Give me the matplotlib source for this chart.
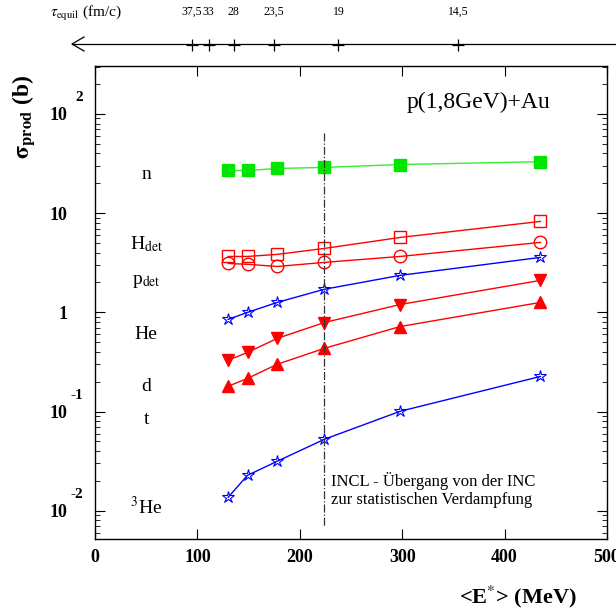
import matplotlib
matplotlib.use('Agg')
from matplotlib import pyplot as plt
from matplotlib.ticker import LogLocator, NullFormatter, FixedLocator, FixedFormatter

plt.rcParams['font.family'] = ['Liberation Serif', 'DejaVu Serif']
plt.rcParams['mathtext.fontset'] = 'stix'

# excitation energy <E*> (MeV)
energie = [130, 149, 178, 224, 298, 435]
tau = ['37,5', '33', '28', '23,5', '19', '14,5']

sigma_n = [26.9, 26.9, 28.2, 28.9, 30.9, 33.0]
sigma_H = [3.66, 3.66, 3.84, 4.41, 5.69, 8.25]
sigma_p = [3.11, 3.05, 2.90, 3.19, 3.66, 5.07]
sigma_He = [0.85, 1.0, 1.26, 1.71, 2.36, 3.58]
sigma_d = [0.329, 0.395, 0.547, 0.79, 1.2, 2.1]
sigma_t = [0.18, 0.216, 0.30, 0.434, 0.72, 1.26]
sigma_He3 = [0.0137, 0.0228, 0.0316, 0.0526, 0.1007, 0.226]

etiquetas = ['n', r'H$_{\rm det}$', r'p$_{\rm det}$', 'He', 'd', 't', r'$^{3}$He']
pos_etiquetas = [21.9, 4.31, 1.91, 0.535, 0.160, 0.0745, 0.00924]

y_ticks = [0.01, 0.1, 1, 10, 100]
y_labels = ['10', '10', '1', '10', '10']
y_exponentes = ['-2', '-1', '', '', '2']

verde = '#00e600'
rojo = '#ff0000'
azul = '#0000ff'

fig = plt.figure(figsize=(6.16, 6.11), dpi=100)
ax = fig.add_axes([95/616, 1-539/611, 512/616, 473/611])

ax.plot(energie, sigma_n, '-s', color='#33ee33', mfc=verde, mec=verde, ms=8.5, lw=1)
ax.plot(energie, sigma_H, '-s', color=rojo, mfc='none', mec=rojo, ms=9, lw=1)
ax.plot(energie, sigma_p, '-o', color=rojo, mfc='none', mec=rojo, ms=9, lw=1)
ax.plot(energie, sigma_He, '-*', color=azul, mfc='none', mec=azul, ms=9, lw=1, mew=0.8)
ax.plot(energie, sigma_d, '-v', color=rojo, mfc=rojo, mec=rojo, ms=8, lw=1)
ax.plot(energie, sigma_t, '-^', color=rojo, mfc=rojo, mec=rojo, ms=8, lw=1)
ax.plot(energie, sigma_He3, '-*', color=azul, mfc='none', mec=azul, ms=9, lw=1, mew=0.8)

# transition INC -> evaporation
ax.plot([energie[3], energie[3]], [64, 0.0068], color='#333333', ls='-.', lw=0.9)
ax.text(230, 0.0161, 'INCL - Übergang von der INC\nzur statistischen Verdampfung',
        fontsize=12, ha='left', va='center', linespacing=1.15)

ax.text(0.889, 0.922, 'p(1,8GeV)+Au', transform=ax.transAxes, fontsize=17,
        ha='right', va='center')

for et, yy in zip(etiquetas, pos_etiquetas):
    ax.text(50, yy, et, fontsize=14, ha='center', va='baseline')

ax.set_xlim(0, 500)
ax.set_ylim(0.0052, 304)
ax.set_yscale('log')
ax.yaxis.set_major_locator(FixedLocator(y_ticks))
ax.yaxis.set_major_formatter(FixedFormatter(y_labels))
ax.yaxis.set_minor_locator(LogLocator(base=10, subs=range(2, 10), numticks=20))
ax.yaxis.set_minor_formatter(NullFormatter())
ax.set_xticks([0, 100, 200, 300, 400, 500])
ax.tick_params(which='both', direction='in', top=True, right=True)
ax.tick_params(axis='x', which='major', length=7, labelsize=13, pad=7)
ax.tick_params(axis='y', which='major', length=7, labelsize=13, pad=20)
ax.tick_params(which='minor', length=3.5)
for lab in ax.get_xticklabels() + ax.get_yticklabels():
    lab.set_fontweight('bold')
for sp in ax.spines.values():
    sp.set_linewidth(1.0)

# exponents of the y tick labels, set apart as in the original
for yv, ex in zip(y_ticks, y_exponentes):
    if ex:
        ax.annotate(ex, xy=(0, yv), xycoords=('axes fraction', 'data'),
                    xytext=(-12, 16), textcoords='offset pixels', fontsize=11,
                    fontweight='bold', ha='right', va='center')

fig.text(518/616, 1-597/611, r'<E$^{*}$> (MeV)', fontsize=16, fontweight='bold',
         ha='center', va='center')
fig.text(24/616, 1-117/611, r'$\mathbf{\sigma_{prod}}$ (b)', fontsize=17, fontweight='bold',
         rotation=90, ha='center', va='center')

# tau_equil scale on top
ax_tau = fig.add_axes([78.6/616, 1-60/611, 436/616, 30/611])
ax_tau.set_xlim(0, 500)
ax_tau.set_ylim(0, 1)
ax_tau.axis('off')
ax_tau.plot(energie, [0.5]*len(energie), '+', color='black', ms=8, mew=0.9, clip_on=False)
for e, t in zip(energie, tau):
    ax_tau.text(e, 1.6, t, fontsize=8.5, ha='center', va='center', clip_on=False)
fig.add_artist(plt.Line2D([72/616, 1.0], [1-44/611, 1-44/611], color='black', lw=0.9))
fig.add_artist(plt.Line2D([84/616, 72/616, 84/616], [1-37/611, 1-44/611, 1-51/611],
                          color='black', lw=0.9))
fig.text(50/616, 1-14/611, r'$\tau_{\rm equil}$ (fm/c)', fontsize=11, ha='left', va='center')

fig.savefig('out.png', dpi=100)
